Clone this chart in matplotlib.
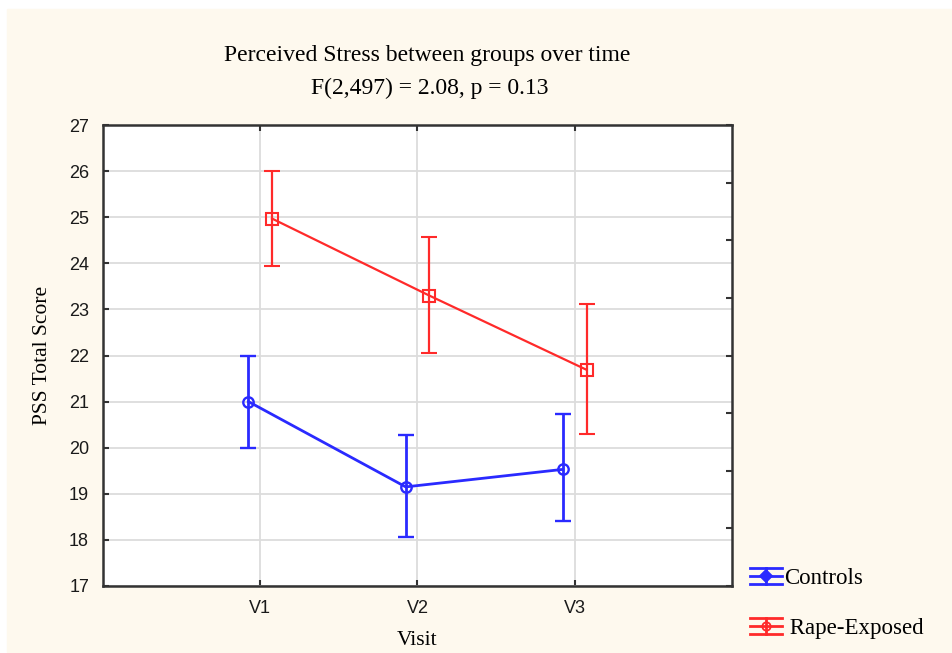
import numpy as np
import matplotlib.pyplot as plt
from matplotlib.patches import Rectangle
from matplotlib.lines import Line2D
from matplotlib.legend_handler import HandlerBase

# group means and error-bar limits per visit
visits = ["V1", "V2", "V3"]
ctrl_mean = [21.0, 19.15, 19.53]
ctrl_low = [20.0, 18.07, 18.40]
ctrl_high = [22.0, 20.27, 20.74]
rape_mean = [24.97, 23.30, 21.69]
rape_low = [23.95, 22.05, 20.30]
rape_high = [26.0, 24.58, 23.11]

SERIF = "Liberation Serif"
SANS = "Liberation Sans"
BLUE = "#2a2aff"
RED = "#ff2a2a"
BG = "#fef9ee"


class ErrGlyph(HandlerBase):
    """Legend key: whisker box drawn as three bars with a stem and marker."""

    def __init__(self, marker, filled):
        super().__init__()
        self.marker = marker
        self.filled = filled

    def create_artists(self, legend, orig, xd, yd, w, h, fs, trans):
        col = orig.get_color()
        lw = orig.get_linewidth()
        cy = h / 2 - yd
        half = h * 0.55
        arts = []
        for dy in (-half, 0, half):
            arts.append(Line2D([-xd, w - xd], [cy + dy, cy + dy],
                               color=col, lw=lw, transform=trans))
        arts.append(Line2D([w / 2 - xd] * 2, [cy - half, cy + half],
                           color=col, lw=lw, transform=trans))
        arts.append(Line2D([w / 2 - xd], [cy], marker=self.marker, ms=6,
                           mfc=col if self.filled else "none", mec=col,
                           mew=1.3, transform=trans))
        return arts


fig = plt.figure(figsize=(9.52, 6.53), dpi=100, facecolor="white")
fig.patches.append(Rectangle((7 / 952, 1 / 653), 1, 1 - 10 / 653,
                             transform=fig.transFigure, color=BG, zorder=-10))

ax = fig.add_axes([103 / 952, 1 - 586 / 653, 629 / 952, 461 / 653])
ax.set_facecolor("white")

x = np.arange(1, len(visits) + 1)
xc = x - 0.075
xr = x + 0.075

def err(mean, low, high):
    m = np.array(mean)
    return [m - np.array(low), np.array(high) - m]

ax.errorbar(xc, ctrl_mean, yerr=err(ctrl_mean, ctrl_low, ctrl_high),
            color=BLUE, lw=2.0, elinewidth=2.0, capsize=6, capthick=2.0,
            marker="o", ms=7.5, mfc="none", mec=BLUE, mew=1.7, zorder=3)
ax.errorbar(xr, rape_mean, yerr=err(rape_mean, rape_low, rape_high),
            color=RED, lw=1.6, elinewidth=1.6, capsize=6, capthick=1.6,
            marker="s", ms=8, mfc="none", mec=RED, mew=1.5, zorder=3)

ax.set_xlim(0, 4)
ax.set_ylim(17, 27)
ax.set_xticks(x)
ax.set_xticklabels(visits, fontfamily=SANS, fontsize=13)
ax.set_yticks(np.arange(17, 28))
ax.set_yticklabels([str(v) for v in range(17, 28)], fontfamily=SANS, fontsize=13)
ax.grid(True, color="#dcdcdc", lw=1.3)
ax.set_axisbelow(True)
ax.tick_params(direction="in", length=4, width=1.5, color="#333333",
               top=True, labelcolor="#1a1a1a", pad=10)
for s in ax.spines.values():
    s.set_color("#333333")
    s.set_linewidth(1.8)

# unlabelled secondary scale on the right spine
ax2 = ax.twinx()
ax2.set_ylim(0, 8)
ax2.set_yticks(np.arange(0, 9))
ax2.set_yticklabels([])
ax2.tick_params(direction="in", length=4, width=1.5, color="#333333")
for s in ax2.spines.values():
    s.set_visible(False)

ax.set_xlabel("Visit", fontfamily=SERIF, fontsize=15.5, labelpad=10)
ax.set_ylabel("PSS Total Score", fontfamily=SERIF, fontsize=15.5, labelpad=12)

fig.text(427 / 952, 1 - 56 / 653, "Perceived Stress between groups over time",
         ha="center", va="center", fontfamily=SERIF, fontsize=17)
fig.text(430 / 952, 1 - 88 / 653, "F(2,497) = 2.08, p = 0.13",
         ha="center", va="center", fontfamily=SERIF, fontsize=17)

h_ctrl = Line2D([], [], color=BLUE, lw=2.0)
h_rape = Line2D([], [], color=RED, lw=2.0)
fig.legend([h_ctrl, h_rape], ["Controls", " Rape-Exposed"],
           handler_map={h_ctrl: ErrGlyph("D", True), h_rape: ErrGlyph("o", False)},
           loc="lower left", bbox_to_anchor=(750 / 952, 1 - 639 / 653),
           prop={"family": SERIF, "size": 16.5}, frameon=False,
           borderpad=0, borderaxespad=0,
           handlelength=1.4, handleheight=0.6, handletextpad=0.1,
           labelspacing=1.25)

fig.savefig("out.png", dpi=100, facecolor=fig.get_facecolor())
